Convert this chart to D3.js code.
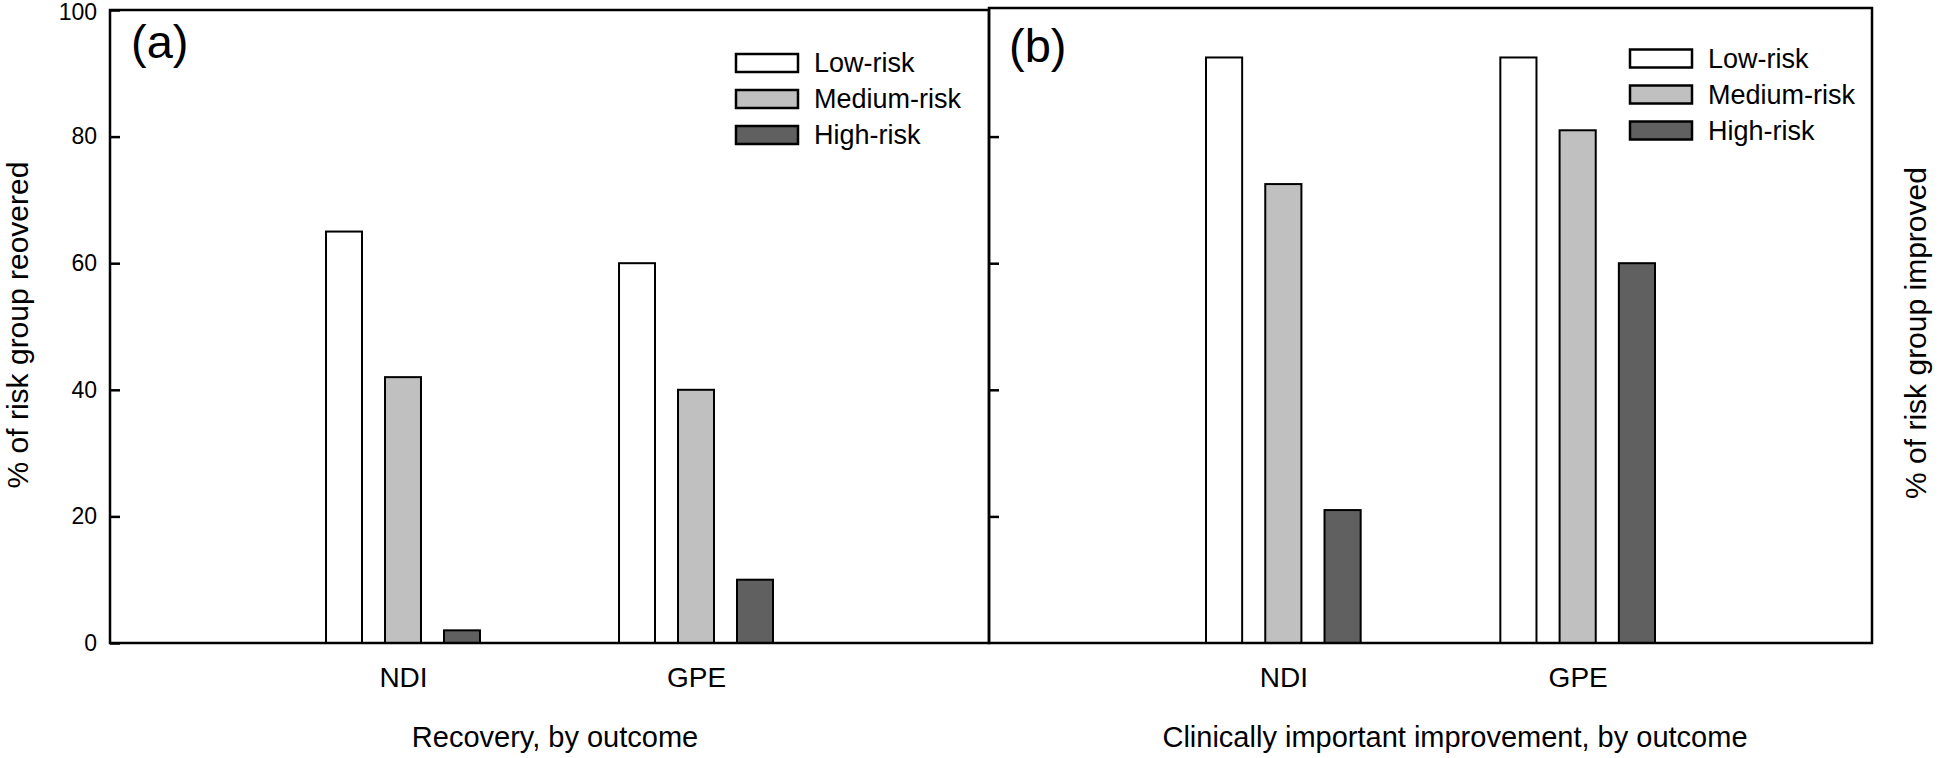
<!DOCTYPE html>
<html>
<head>
<meta charset="utf-8">
<script src="https://cdn.jsdelivr.net/npm/d3@7"></script>
<style>
  html, body { margin: 0; padding: 0; background: #fff; }
  svg { display: block; font-family: "Liberation Sans", Arial, Helvetica, sans-serif; }
</style>
</head>
<body>
<svg id="chart" width="1939" height="758"></svg>
<script>
// ---- data ----
const categories = ["NDI", "GPE"];
const riskGroups = ["Low-risk", "Medium-risk", "High-risk"];
const riskFills = ["#ffffff", "#c0c0c0", "#606060"];

// panel (a): % of risk group recovered
const recoveredLow = [65, 60];
const recoveredMedium = [42, 40];
const recoveredHigh = [2, 10];

// panel (b): % of risk group improved
const improvedLow = [92.5, 92.5];
const improvedMedium = [72.5, 81];
const improvedHigh = [21, 60];

const yTicks = [0, 20, 40, 60, 80, 100];
const yTicksInner = [20, 40, 60, 80];

// ---- drawing ----
const svg = d3.select("#chart");
const y = d3.scaleLinear().domain([0, 100]).range([643, 10]);

function drawPanel(opt) {
  const g = svg.append("g");
  const x0 = d3.scalePoint().domain(categories).range([opt.left, opt.right]).padding(1);
  const half = x0.step() * 0.302;
  const x1 = d3.scaleBand().domain(riskGroups).range([-half, half])
    .paddingInner(0.39).paddingOuter(0.195);

  const series = riskGroups.map((r, i) => ({ key: r, fill: riskFills[i], values: opt.series[i] }));

  // bars
  series.forEach(s => {
    g.append("g").selectAll("rect").data(categories).join("rect")
      .attr("x", (c) => x0(c) + x1(s.key))
      .attr("y", (c, j) => y(s.values[j]))
      .attr("width", x1.bandwidth())
      .attr("height", (c, j) => y(0) - y(s.values[j]))
      .attr("fill", s.fill)
      .attr("stroke", "#000")
      .attr("stroke-width", 2);
  });

  // frame
  g.append("rect")
    .attr("x", opt.left).attr("y", y(100) + opt.topShift)
    .attr("width", opt.right - opt.left).attr("height", y(0) - y(100) - opt.topShift)
    .attr("fill", "none").attr("stroke", "#000").attr("stroke-width", 2.5);

  // y axis
  const yAxis = d3.axisLeft(y).tickValues(opt.labels ? yTicks : yTicksInner)
    .tickSize(-10).tickPadding(13);
  if (!opt.labels) yAxis.tickFormat("");
  const ya = g.append("g").attr("transform", `translate(${opt.left},0)`).call(yAxis);
  ya.select(".domain").remove();
  ya.selectAll(".tick line").attr("stroke", "#000").attr("stroke-width", 2.5);
  ya.selectAll(".tick text").attr("font-size", 23).attr("fill", "#000")
    .attr("font-family", "Liberation Sans, Arial, sans-serif")
    .attr("dy", d => d === 100 ? "0.40em" : "0.32em");

  // x axis (labels only)
  const xa = g.append("g").attr("transform", `translate(0,${y(0)})`)
    .call(d3.axisBottom(x0).tickSize(0).tickPadding(24));
  xa.select(".domain").remove();
  xa.selectAll(".tick text").attr("font-size", 28).attr("fill", "#000")
    .attr("font-family", "Liberation Sans, Arial, sans-serif");

  // x title
  g.append("text").attr("x", opt.xTitleX).attr("y", 747)
    .attr("text-anchor", "middle").attr("font-size", 29).text(opt.xTitle);

  // y title
  g.append("text")
    .attr("transform", `translate(${opt.yTitleX},${opt.yTitleY}) rotate(-90)`)
    .attr("text-anchor", "middle").attr("font-size", 30).text(opt.yTitle);

  // panel label
  g.append("text").attr("x", opt.tagX).attr("y", opt.tagY)
    .attr("font-size", 47).text(opt.tag);

  // legend
  const lg = g.append("g").attr("transform", `translate(${opt.legX},${opt.legY})`);
  const rows = lg.selectAll("g").data(series).join("g")
    .attr("transform", (d, i) => `translate(0,${i * 36})`);
  rows.append("rect").attr("width", 62).attr("height", 18)
    .attr("fill", d => d.fill).attr("stroke", "#000").attr("stroke-width", 2.5);
  rows.append("text").attr("x", 78).attr("y", 18)
    .attr("font-size", 27).text(d => d.key);
}

drawPanel({
  left: 110, right: 989, topShift: 0,
  series: [recoveredLow, recoveredMedium, recoveredHigh],
  labels: true,
  xTitle: "Recovery, by outcome", xTitleX: 555,
  yTitle: "% of risk group reovered", yTitleX: 28, yTitleY: 325,
  tag: "(a)", tagX: 131, tagY: 58,
  legX: 736, legY: 54
});

drawPanel({
  left: 989, right: 1872, topShift: -2,
  series: [improvedLow, improvedMedium, improvedHigh],
  labels: false,
  xTitle: "Clinically important improvement, by outcome", xTitleX: 1455,
  yTitle: "% of risk group improved", yTitleX: 1926, yTitleY: 333,
  tag: "(b)", tagX: 1009, tagY: 62,
  legX: 1630, legY: 49.5
});
</script>
</body>
</html>
